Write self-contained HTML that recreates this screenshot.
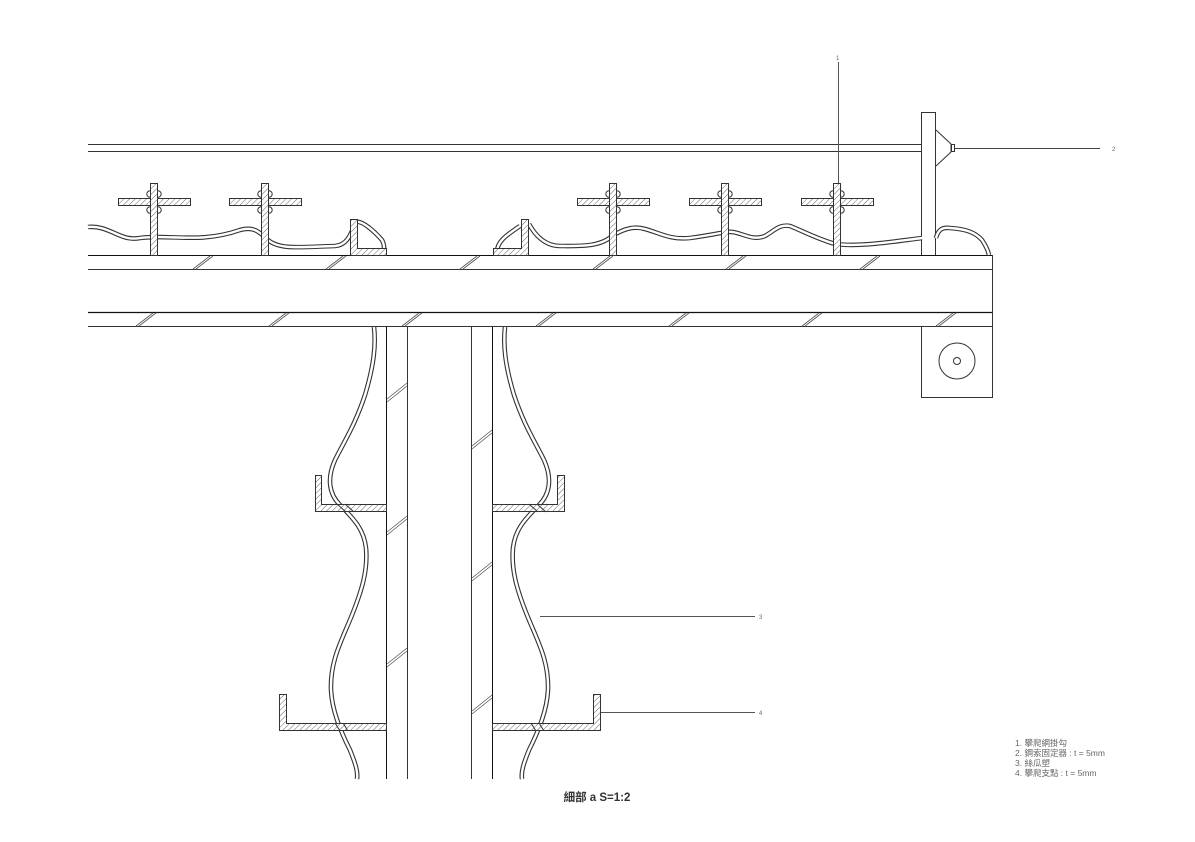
<!DOCTYPE html>
<html><head><meta charset="utf-8"><style>
html,body{margin:0;padding:0;background:#fff}
svg{display:block}
text{font-family:"Liberation Sans","Noto Sans CJK TC",sans-serif}
</style></head><body>
<svg width="1195" height="842" viewBox="0 0 1195 842" xmlns="http://www.w3.org/2000/svg">
<defs>
<pattern id="h" width="4" height="4" patternUnits="userSpaceOnUse" patternTransform="rotate(45)">
<rect width="4" height="4" fill="#fff"/><line x1="0" y1="0" x2="0" y2="4" stroke="#666" stroke-width="1"/>
</pattern>
</defs>
<g fill="none" stroke="#333" stroke-width="1">
<line x1="88" y1="144.5" x2="921" y2="144.5"/>
<line x1="88" y1="151.5" x2="921" y2="151.5"/>
<rect x="921.5" y="112.5" width="14" height="143" fill="#fff"/>
<path d="M936 130 L951 144 L951 152 L936 166"/>
<rect x="951.5" y="144.5" width="3" height="7"/>
<line x1="955" y1="148.5" x2="1100" y2="148.5" stroke="#444"/>
<line x1="838.5" y1="62" x2="838.5" y2="185" stroke="#555"/>
<line x1="88" y1="255.5" x2="993" y2="255.5" stroke="#111"/>
<line x1="88" y1="269.5" x2="993" y2="269.5"/>
<line x1="88" y1="312.5" x2="993" y2="312.5" stroke="#111" stroke-width="1.3"/>
<line x1="88" y1="326.5" x2="993" y2="326.5"/>
<line x1="992.5" y1="255" x2="992.5" y2="327"/>
<rect x="921.5" y="326.5" width="71" height="71"/>
<circle cx="957" cy="361" r="18"/>
<circle cx="957" cy="361" r="3.5"/>
<line x1="386.5" y1="327" x2="386.5" y2="779" stroke="#111"/>
<line x1="407.5" y1="327" x2="407.5" y2="779"/>
<line x1="471.5" y1="327" x2="471.5" y2="779"/>
<line x1="492.5" y1="327" x2="492.5" y2="779" stroke="#111"/>
</g>
<g stroke="#555" stroke-width="0.8">
<path d="M193 269 L210 256 M196 269 L213 256 M326 269 L343 256 M329 269 L346 256 M460 269 L477 256 M463 269 L480 256 M593 269 L610 256 M596 269 L613 256 M726 269 L743 256 M729 269 L746 256 M860 269 L877 256 M863 269 L880 256"/>
<path d="M136 326 L153 313 M139 326 L156 313 M269 326 L286 313 M272 326 L289 313 M402 326 L419 313 M405 326 L422 313 M536 326 L553 313 M539 326 L556 313 M669 326 L686 313 M672 326 L689 313 M802 326 L819 313 M805 326 L822 313 M936 326 L953 313 M939 326 L956 313"/>
<path d="M387 399 L407 383 M387 402 L407 386 M387 532 L407 516 M387 535 L407 519 M387 664 L407 648 M387 667 L407 651"/>
<path d="M472 446 L492 430 M472 449 L492 433 M472 578 L492 562 M472 581 L492 565 M472 711 L492 695 M472 714 L492 698"/>
</g>
<g fill="none" stroke-linecap="butt" stroke-linejoin="round">
<g stroke="#333" stroke-width="4.6">
<path id="r1" d="M88 227 C110 225,120 242,140 238 C170 234,200 244,240 230 C255 226,260 233,268 240 C280 250,300 247,335 246 C350 245,352 228,356 222 C362 220,375 232,382 240 C385 246,384 250,383 252"/>
<path id="r2" d="M497 252 C497 242,505 236,520 226 M529 224 C535 235,545 246,560 246 C580 246,600 247,612 236 C625 228,635 226,645 229 C660 233,670 240,690 238 C705 236,715 234,726 232 C740 230,750 242,765 236 C775 230,780 224,790 226 C805 232,815 238,835 244 C860 247,890 242,922 238"/>
<path id="r3" d="M936 238 C938 230,942 227,950 228 C965 229,975 232,982 240 C986 246,988 250,989 255"/>
<path id="r4" d="M374 327 C376 345,374 365,365 395 C355 425,345 440,335 460 C326 480,330 495,340 505 C355 520,364 530,366 548 C368 570,362 590,352 615 C342 640,330 660,331 690 C332 710,340 730,350 750 C356 765,358 772,357 779"/>
<path id="r5" d="M505 327 C503 345,505 365,514 395 C524 425,534 440,544 460 C553 480,549 495,539 505 C524 520,515 530,513 548 C511 570,517 590,527 615 C537 640,549 660,548 690 C547 710,539 730,529 750 C523 765,521 772,522 779"/>
</g>
<g stroke="#fff" stroke-width="2.4">
<use href="#r1"/><use href="#r2"/><use href="#r3"/><use href="#r4"/><use href="#r5"/>
</g>
</g>
<g fill="url(#h)" stroke="#333" stroke-width="1">
<g id="hk">
<circle cx="150" cy="194" r="3.2" fill="#fff"/><circle cx="158" cy="194" r="3.2" fill="#fff"/>
<circle cx="150" cy="210" r="3.2" fill="#fff"/><circle cx="158" cy="210" r="3.2" fill="#fff"/>
<rect x="118.5" y="198.5" width="72" height="7"/>
<rect x="150.5" y="183.5" width="7" height="72"/>
</g>
<use href="#hk" x="111"/><use href="#hk" x="459"/><use href="#hk" x="571"/><use href="#hk" x="683"/>
<path d="M350.5 219.5 H357.5 V248.5 H386.5 V255.5 H350.5 Z"/>
<path d="M528.5 219.5 H521.5 V248.5 H493.5 V255.5 H528.5 Z"/>
<path d="M315.5 475.5 H321.5 V504.5 H386.5 V511.5 H315.5 Z"/>
<path d="M564.5 475.5 H557.5 V504.5 H492.5 V511.5 H564.5 Z"/>
<path d="M279.5 694.5 H286.5 V723.5 H386.5 V730.5 H279.5 Z"/>
<path d="M600.5 694.5 H593.5 V723.5 H492.5 V730.5 H600.5 Z"/>
</g>
<g fill="none">
<path d="M345 504 L354 512 M337 504 L346 512 M529 504 L538 512 M537 504 L546 512 M335 723 L340 731 M343 723 L348 731 M539 723 L544 731 M531 723 L536 731" stroke="#333" stroke-width="1"/>
</g>
<g stroke="#555" stroke-width="1">
<line x1="540" y1="616.5" x2="755" y2="616.5"/>
<line x1="601" y1="712.5" x2="755" y2="712.5"/>
</g>
<g font-size="6" fill="#666">
<text x="836" y="60">1</text>
<text x="1112" y="151">2</text>
<text x="759" y="619">3</text>
<text x="759" y="715">4</text>
</g>
<g font-size="8.5" fill="#666">
<text x="1015" y="746">1.  攀爬網掛勾</text>
<text x="1015" y="756">2.  鋼索固定器 : t = 5mm</text>
<text x="1015" y="766">3.  絲瓜塑</text>
<text x="1015" y="776">4.  攀爬支點 : t = 5mm</text>
</g>
<text x="597" y="801" font-size="11.5" font-weight="bold" fill="#333" text-anchor="middle">細部 a  S=1:2</text>
</svg>
</body></html>
